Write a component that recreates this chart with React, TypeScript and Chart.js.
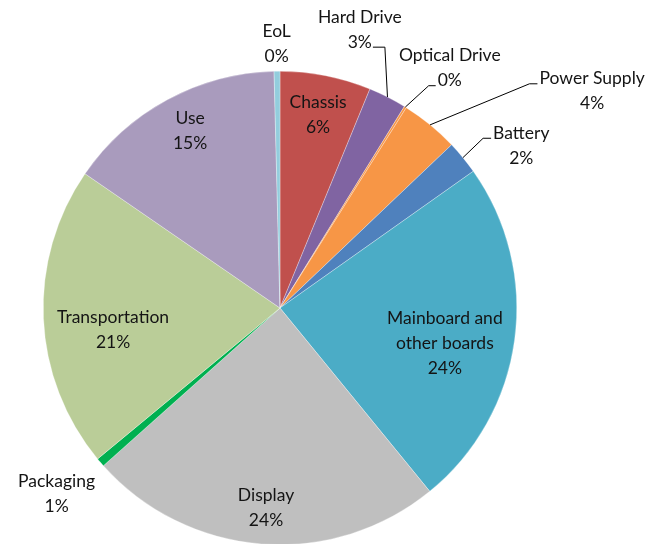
import React, { useEffect, useRef } from "react";
import { Chart, registerables } from "chart.js";

Chart.register(...registerables);

// ---- data ----
const categories = [
  "Chassis",
  "Hard Drive",
  "Optical Drive",
  "Power Supply",
  "Battery",
  "Mainboard and\nother boards",
  "Display",
  "Packaging",
  "Transportation",
  "Use",
  "EoL",
];
const shares = [6.2, 2.6, 0.15, 3.95, 2.3, 23.9, 24.3, 0.6, 20.6, 15.0, 0.4];
const sliceColors = [
  "#C0504D",
  "#8064A2",
  "#F79646",
  "#F79646",
  "#4F81BD",
  "#4BACC6",
  "#BFBFBF",
  "#00B050",
  "#BACD98",
  "#A99BBD",
  "#93CDDD",
];

// ---- label layout (radius factor, angle offset in degrees from slice middle, optional leader) ----
type Leader = { line: number; side: "left" | "right"; elbow: number };
const labelLayout: { rf: number; off: number; leader?: Leader }[] = [
  { rf: 0.83, off: 0 },
  { rf: 1.223, off: -11, leader: { line: 1, side: "right", elbow: 12 } },
  { rf: 1.241, off: 3.35, leader: { line: 1, side: "left", elbow: 7 } },
  { rf: 1.605, off: 15.9, leader: { line: 0, side: "left", elbow: 8 } },
  { rf: 1.228, off: 5.5, leader: { line: 0, side: "left", elbow: 8 } },
  { rf: 0.712, off: 4.3 },
  { rf: 0.848, off: -0.5 },
  { rf: 1.228, off: 0.9 },
  { rf: 0.711, off: -4.8 },
  { rf: 0.838, off: 1.5 },
  { rf: 1.114, off: 0 },
];

const FONT = "17.5px Lato, 'Open Sans', sans-serif";
const LINE_H = 25;

const labelPlugin = {
  id: "pieLabels",
  afterDatasetsDraw(chart: any) {
    const ctx = chart.ctx as CanvasRenderingContext2D;
    const meta = chart.getDatasetMeta(0);
    const values = chart.data.datasets[0].data as number[];
    const total = values.reduce((a, b) => a + b, 0);
    ctx.save();
    ctx.font = FONT;
    ctx.fillStyle = "#141414";
    ctx.textAlign = "center";
    ctx.textBaseline = "middle";
    meta.data.forEach((arc: any, i: number) => {
      const { x, y, startAngle, endAngle, outerRadius } = arc.getProps(
        ["x", "y", "startAngle", "endAngle", "outerRadius"],
        true
      );
      const mid = (startAngle + endAngle) / 2;
      const lay = labelLayout[i];
      const a = mid + (lay.off * Math.PI) / 180;
      const lx = x + lay.rf * outerRadius * Math.cos(a);
      const ly = y + lay.rf * outerRadius * Math.sin(a);
      const lines = [
        ...String(chart.data.labels[i]).split("\n"),
        Math.round((values[i] / total) * 100) + "%",
      ];
      const top = ly - ((lines.length - 1) * LINE_H) / 2;
      lines.forEach((t, k) => ctx.fillText(t, lx, top + k * LINE_H));
      if (lay.leader) {
        const L = lay.leader;
        const w = ctx.measureText(lines[L.line]).width;
        const lineY = top + L.line * LINE_H + 5;
        const edgeX = x + outerRadius * Math.cos(mid);
        const edgeY = y + outerRadius * Math.sin(mid);
        const textEdge = L.side === "left" ? lx - w / 2 - 2 : lx + w / 2 + 1;
        const elbowX = L.side === "left" ? textEdge - L.elbow : textEdge + L.elbow;
        ctx.beginPath();
        ctx.strokeStyle = "#000";
        ctx.lineWidth = 1;
        ctx.moveTo(edgeX, edgeY);
        ctx.lineTo(elbowX, lineY);
        ctx.lineTo(textEdge, lineY);
        ctx.stroke();
      }
    });
    ctx.restore();
  },
};

export default function App() {
  const ref = useRef<HTMLCanvasElement | null>(null);
  useEffect(() => {
    if (!ref.current) return;
    const chart = new Chart(ref.current, {
      type: "pie",
      data: {
        labels: categories,
        datasets: [
          {
            data: shares,
            backgroundColor: sliceColors,
            borderColor: "rgba(255,255,255,0.6)",
            borderWidth: 0.5,
          },
        ],
      },
      options: {
        responsive: false,
        animation: false,
        devicePixelRatio: 1,
        layout: { padding: { left: 43, right: 150, top: 71, bottom: 55 } },
        plugins: {
          legend: { display: false },
          tooltip: { enabled: false },
        },
      },
      plugins: [labelPlugin],
    });
    return () => chart.destroy();
  }, []);
  return (
    <div
      style={{
        position: "fixed",
        left: 0,
        top: 0,
        width: 667,
        height: 544,
        overflow: "hidden",
        background: "#fff",
      }}
    >
      <canvas ref={ref} width={667} height={600} style={{ display: "block" }} />
    </div>
  );
}
